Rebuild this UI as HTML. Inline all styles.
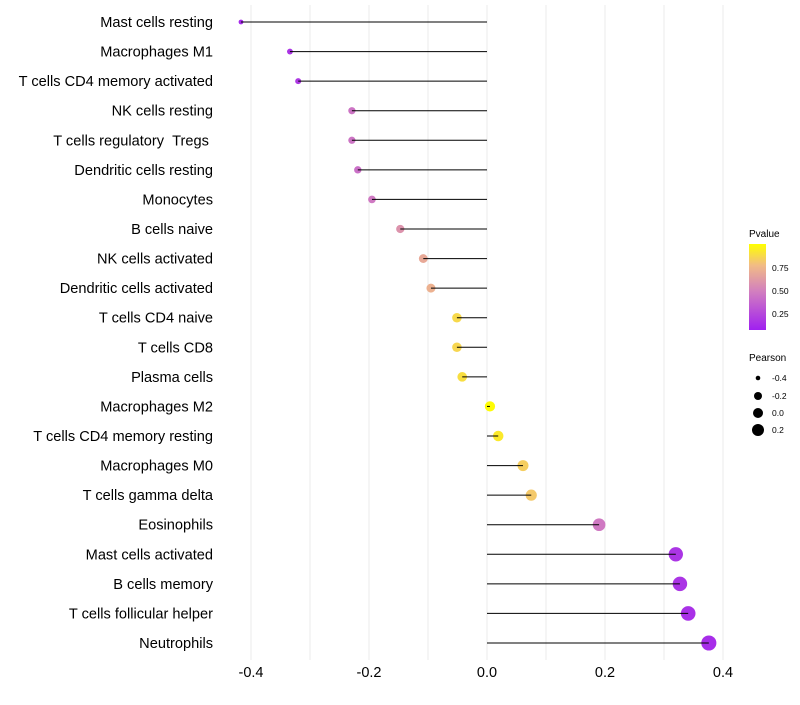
<!DOCTYPE html>
<html><head><meta charset="utf-8"><style>
body{margin:0;background:#fff;font-family:"Liberation Sans",sans-serif;}
</style></head><body>
<svg id="chart" width="800" height="700" xmlns="http://www.w3.org/2000/svg" font-family="Liberation Sans, sans-serif">
<defs><linearGradient id="pg" x1="0" y1="1" x2="0" y2="0">
<stop offset="0" stop-color="#a020f0"/><stop offset="0.45" stop-color="#d27fbf"/><stop offset="0.75" stop-color="#f1bb86"/><stop offset="1" stop-color="#ffff00"/></linearGradient></defs>
<g id="grid"></g>
<g id="marks"></g>
<g id="axes"></g>
<g>
<text x="749" y="237" font-size="10">Pvalue</text>
<rect x="749" y="244" width="17" height="86" fill="url(#pg)"/>
<text x="772" y="271" font-size="8.5">0.75</text>
<text x="772" y="294" font-size="8.5">0.50</text>
<text x="772" y="317" font-size="8.5">0.25</text>
</g>
<g>
<text x="749" y="361" font-size="10">Pearson</text>
<circle cx="758" cy="378" r="2.3" fill="#000"/>
<circle cx="758" cy="396" r="4" fill="#000"/>
<circle cx="758" cy="413" r="5" fill="#000"/>
<circle cx="758" cy="430" r="6" fill="#000"/>
<text x="772" y="381" font-size="8.5">-0.4</text>
<text x="772" y="399" font-size="8.5">-0.2</text>
<text x="772" y="416" font-size="8.5">0.0</text>
<text x="772" y="433" font-size="8.5">0.2</text>
</g>
</svg>
<script>
const categories=["Mast cells resting","Macrophages M1","T cells CD4 memory activated","NK cells resting","T cells regulatory\u00a0\u00a0Tregs\u00a0","Dendritic cells resting","Monocytes","B cells naive","NK cells activated","Dendritic cells activated","T cells CD4 naive","T cells CD8","Plasma cells","Macrophages M2","T cells CD4 memory resting","Macrophages M0","T cells gamma delta","Eosinophils","Mast cells activated","B cells memory","T cells follicular helper","Neutrophils"];
const pearson=[-0.417,-0.334,-0.320,-0.229,-0.229,-0.219,-0.195,-0.147,-0.108,-0.095,-0.051,-0.051,-0.042,0.005,0.019,0.061,0.075,0.190,0.320,0.327,0.341,0.376];
const pvalues=[0.05,0.10,0.12,0.40,0.40,0.38,0.42,0.55,0.66,0.70,0.86,0.85,0.88,0.99,0.92,0.82,0.80,0.42,0.10,0.10,0.08,0.06];
const xTicks=[-0.4,-0.2,0,0.2,0.4];
const xTickLabels=["-0.4","-0.2","0.0","0.2","0.4"];
const NS="http://www.w3.org/2000/svg";
const x=v=>487+v*590;
const y=i=>22+i*(621/21);
const r=v=>5.1+6.5*v;
function lerp(a,b,t){return a.map((c,k)=>Math.round(c+(b[k]-c)*t));}
const stops=[[0,[160,32,240]],[0.45,[210,127,191]],[0.75,[241,187,134]],[1,[255,255,0]]];
function col(p){for(let k=1;k<stops.length;k++){if(p<=stops[k][0]){const t=(p-stops[k-1][0])/(stops[k][0]-stops[k-1][0]);return "rgb("+lerp(stops[k-1][1],stops[k][1],t).join(",")+")";}}return "rgb(255,255,0)";}
function mk(tag,attrs,parent){const e=document.createElementNS(NS,tag);for(const k in attrs)e.setAttribute(k,attrs[k]);parent.appendChild(e);return e;}
const grid=document.getElementById('grid'),marks=document.getElementById('marks'),axes=document.getElementById('axes');
for(let g=-4;g<=4;g++){const l=mk('line',{x1:x(g/10),x2:x(g/10),y1:5,y2:660,stroke:'#ebebeb','stroke-width':1},grid);

}
xTicks.forEach((t,i)=>{const tx=mk('text',{x:x(t),y:677,'font-size':14.5,'text-anchor':'middle',fill:'#000'},axes);tx.textContent=xTickLabels[i];

});
categories.forEach((c,i)=>{
const lb=mk('text',{x:213,y:y(i)+5,'font-size':14.6,'text-anchor':'end',fill:'#000'},axes);lb.textContent=c;


const pt=mk('circle',{cx:x(pearson[i]),cy:y(i),r:r(pearson[i]),fill:col(pvalues[i])},marks);


const sg=mk('line',{x1:x(0),x2:x(pearson[i]),y1:y(i),y2:y(i),stroke:'#000','stroke-width':1},marks);


});
</script>
</body></html>
